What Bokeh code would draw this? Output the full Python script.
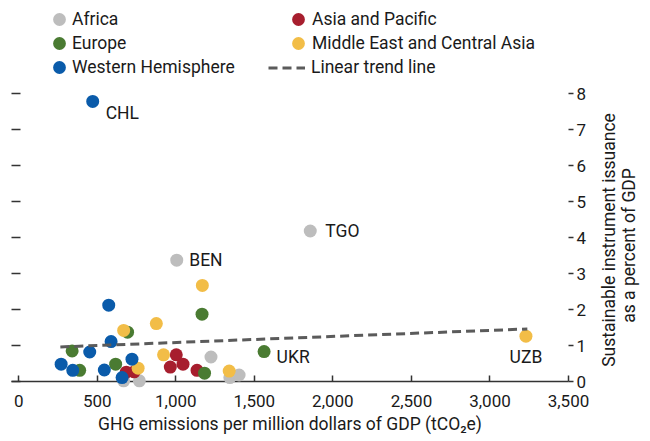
import math
from bokeh.plotting import figure
from bokeh.layouts import row
from bokeh.models import (Range1d, LinearAxis, FixedTicker, NumeralTickFormatter,
                          Legend, LegendItem, Label)
from bokeh.embed import file_html
from bokeh.resources import INLINE

# ---------------- data ----------------
africa_x = [1856, 1006, 1224, 1344, 1403, 668, 768]
africa_y = [4.18, 3.37, 0.68, 0.11, 0.18, 0.02, 0.02]
asia_x = [1003, 965, 1046, 1135, 685, 735]
asia_y = [0.74, 0.40, 0.48, 0.31, 0.26, 0.27]
europe_x = [1167, 1562, 693, 340, 388, 617, 1183]
europe_y = [1.87, 0.83, 1.37, 0.85, 0.31, 0.48, 0.23]
mideast_x = [1169, 876, 668, 922, 760, 1340, 3229]
mideast_y = [2.67, 1.61, 1.42, 0.74, 0.37, 0.29, 1.26]
west_x = [471, 573, 588, 452, 270, 344, 545, 721, 658]
west_y = [7.78, 2.12, 1.11, 0.82, 0.48, 0.31, 0.32, 0.62, 0.11]
trend_x = [265, 3238]
trend_y = [0.96, 1.46]

x_ticks = [0, 500, 1000, 1500, 2000, 2500, 3000, 3500]
y_ticks = [0, 1, 2, 3, 4, 5, 6, 7, 8]

region_names = ["Africa", "Asia and Pacific", "Europe",
                "Middle East and Central Asia", "Western Hemisphere"]
trend_name = "Linear trend line"

# country codes annotated: (code, region index, point index)
annotated = [("CHL", 4, 0), ("BEN", 0, 1), ("TGO", 0, 0), ("UKR", 2, 1), ("UZB", 3, 6)]

x_title = "GHG emissions per million dollars of GDP (tCO\u2082e)"
y_title_1 = "Sustainable instrument issuance"
y_title_2 = "as a percent of GDP"

# ---------------- styles ----------------
FONT = "Roboto"
FS = "17.5px"
FS_TICK = "17px"
TXT = "#1a1a1a"
AX = "#333333"
colors = ["#BDBDBD", "#A71E2E", "#4A7B32", "#F2BD47", "#0A5BAA"]
label_style = {  # code: (x_offset, y_offset, align)
    "CHL": (13, -12, "left"),
    "BEN": (12.5, 0, "left"),
    "TGO": (15, 0, "left"),
    "UKR": (12.5, -5.5, "left"),
    "UZB": (0, -21, "center"),
}

FRAME_H = 381          # frame reaches the top of the canvas (legend lives inside)
PX_PER_UNIT = 36
RIGHT_BORDER = 25

p = figure(frame_width=557, frame_height=FRAME_H,
           x_range=Range1d(-46, 3500), y_range=Range1d(0, FRAME_H / PX_PER_UNIT),
           output_backend="svg", toolbar_location=None,
           min_border_left=11, min_border_right=RIGHT_BORDER, min_border_top=0,
           min_border_bottom=0, outline_line_color=None)
p.grid.visible = False

# bottom axis
xa = p.xaxis[0]
xa.ticker = FixedTicker(ticks=x_ticks)
xa.formatter = NumeralTickFormatter(format="0,0")
xa.major_tick_in = 6
xa.major_tick_out = 0
xa.minor_tick_in = 0
xa.minor_tick_out = 0
xa.axis_line_color = AX
xa.axis_line_width = 1.5
xa.major_tick_line_color = AX
xa.major_tick_line_width = 1.5
xa.major_label_text_font = FONT
xa.major_label_text_font_size = FS_TICK
xa.major_label_text_color = TXT
xa.major_label_standoff = 13
xa.axis_label = x_title
xa.axis_label_text_font = FONT
xa.axis_label_text_font_size = FS
xa.axis_label_text_font_style = "normal"
xa.axis_label_text_color = TXT
xa.axis_label_standoff = 4

# left axis: ticks only
ya = p.yaxis[0]
ya.ticker = FixedTicker(ticks=y_ticks)
ya.bounds = (0, 8)
ya.major_tick_in = 9
ya.major_tick_out = 0
ya.minor_tick_in = 0
ya.minor_tick_out = 0
ya.axis_line_color = None
ya.major_tick_line_color = AX
ya.major_tick_line_width = 1.5
ya.major_label_overrides = {t: "" for t in y_ticks}
ya.major_label_standoff = 0

# right axis (ticks + labels)
ra = LinearAxis(ticker=FixedTicker(ticks=y_ticks), bounds=(0, 8))
ra.major_tick_in = 0
ra.major_tick_out = 5
ra.minor_tick_in = 0
ra.minor_tick_out = 0
ra.axis_line_color = None
ra.major_tick_line_color = AX
ra.major_tick_line_width = 1.5
ra.major_label_text_font = FONT
ra.major_label_text_font_size = FS_TICK
ra.major_label_text_color = TXT
ra.major_label_standoff = 3
p.add_layout(ra, "right")

# scatter series
xs = [africa_x, asia_x, europe_x, mideast_x, west_x]
ys = [africa_y, asia_y, europe_y, mideast_y, west_y]
rends = []
for x, y, c in zip(xs, ys, colors):
    r = p.scatter(x, y, size=13, fill_color=c, line_color=None, level="overlay")
    rends.append(r)

tr = p.line(trend_x, trend_y, line_color="#5b5b5b", line_width=3,
            line_dash="9 5", level="overlay")

# legend swatches: invisible (NaN) ellipses, drawn as dots inside the legend
swatches = [p.ellipse(x=[math.nan], y=[math.nan], width=13, height=13,
                      width_units="screen", height_units="screen",
                      fill_color=c, line_color=None) for c in colors]

# point annotations
for code, ri, pi in annotated:
    dx, dy, al = label_style[code]
    p.add_layout(Label(x=xs[ri][pi], y=ys[ri][pi], text=code, x_offset=dx, y_offset=dy,
                       text_align=al, text_baseline="middle", text_font=FONT,
                       text_font_size=FS, text_color=TXT))

# legends
def make_legend(items, loc, gw, gh, standoff):
    lg = Legend(items=items, location=loc, glyph_width=gw, glyph_height=gh,
                label_standoff=standoff, spacing=3, padding=0, margin=0,
                border_line_color=None, background_fill_alpha=0,
                label_text_font=FONT, label_text_font_size=FS,
                label_text_color=TXT, label_height=21)
    p.add_layout(lg)
    return lg

make_legend([LegendItem(label=region_names[i], renderers=[swatches[i]]) for i in (0, 2, 4)],
            (40, 303.5), 16, 16, 5)
make_legend([LegendItem(label=region_names[i], renderers=[swatches[i]]) for i in (1, 3)],
            (279, 327.5), 16, 16, 6)
make_legend([LegendItem(label=trend_name, renderers=[tr])],
            (257, 303.5), 37, 13, 6)

# right-hand title, drawn in a narrow companion panel (reads bottom to top)
t = figure(frame_width=57, frame_height=FRAME_H, x_range=Range1d(0, 1),
           y_range=Range1d(0, 1), x_axis_location=None, y_axis_location=None,
           output_backend="svg", toolbar_location=None, min_border=0,
           outline_line_color=None)
t.grid.visible = False
for txt, cx, cy in ((y_title_1, 15, 141.5), (y_title_2, 35.5, 136)):
    t.add_layout(Label(x=cx, y=cy, x_units="screen", y_units="screen", text=txt,
                       angle=90, angle_units="deg", text_align="center",
                       text_baseline="middle", text_font=FONT, text_font_size=FS,
                       text_color=TXT))

layout = row(p, t)
open("out.html", "w").write(file_html(layout, INLINE))
